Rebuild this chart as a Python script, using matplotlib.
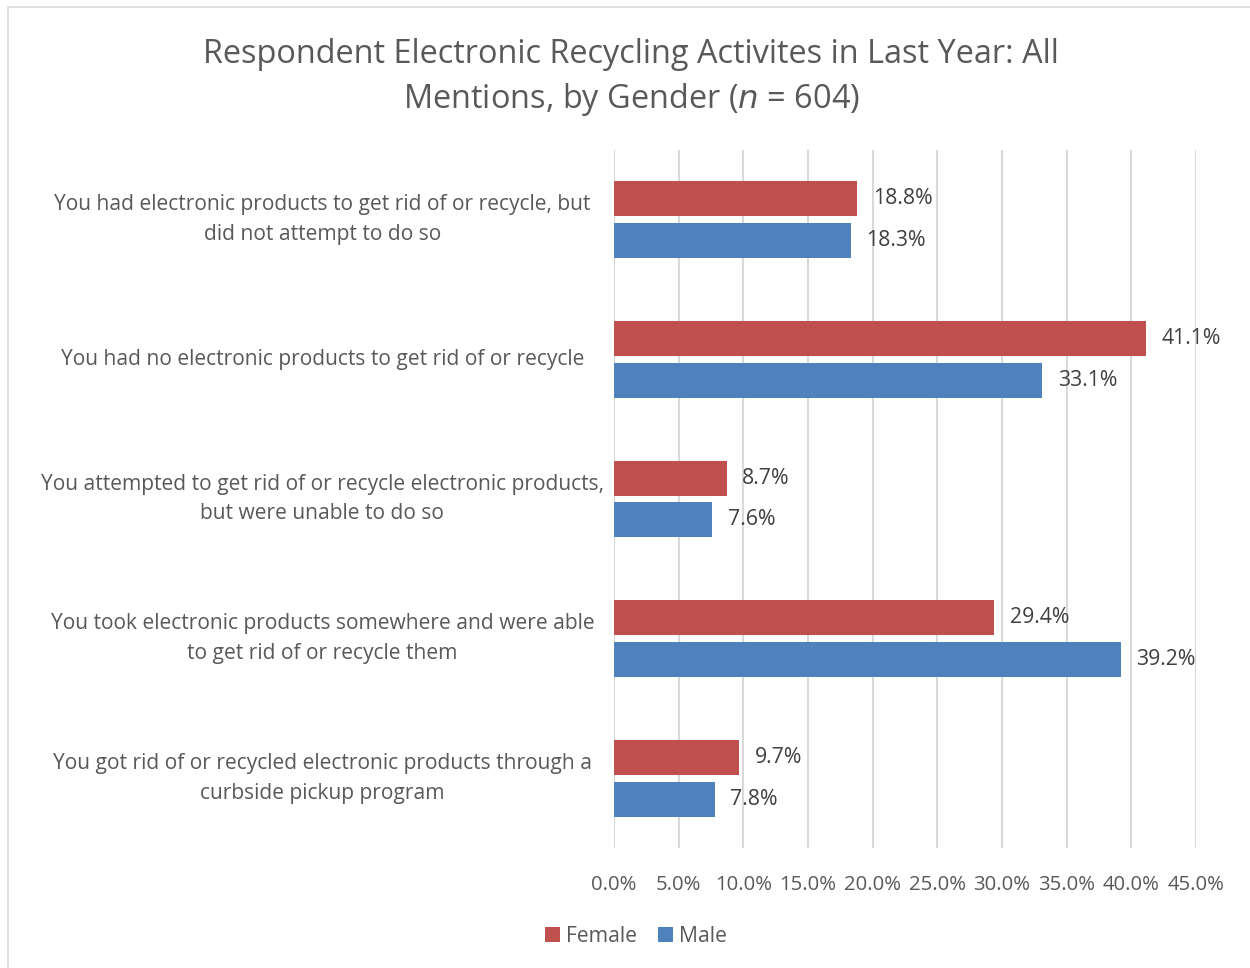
import matplotlib
matplotlib.use("Agg")
import matplotlib.pyplot as plt
from matplotlib.patches import Rectangle
import numpy as np

plt.rcParams['font.family'] = ['Open Sans', 'DejaVu Sans']

categories = [
    "You had electronic products to get rid of or recycle, but\ndid not attempt to do so",
    "You had no electronic products to get rid of or recycle",
    "You attempted to get rid of or recycle electronic products,\nbut were unable to do so",
    "You took electronic products somewhere and were able\nto get rid of or recycle them",
    "You got rid of or recycled electronic products through a\ncurbside pickup program",
]
female = [18.8, 41.1, 8.7, 29.4, 9.7]
male = [18.3, 33.1, 7.6, 39.2, 7.8]
xticks = [0, 5, 10, 15, 20, 25, 30, 35, 40, 45]

female_color = "#C0504D"
male_color = "#4F81BD"
text_color = "#595959"
grid_color = "#D9D9D9"

fig = plt.figure(figsize=(12.5, 9.68), dpi=100)
fig.patches.append(Rectangle((0.0065, -0.01), 1.2, 1.003, transform=fig.transFigure,
                             fill=False, edgecolor="#D9D9D9", linewidth=1.2))

ax = fig.add_axes([614 / 1250, 1 - 848 / 968, (1196 - 614) / 1250, (848 - 150) / 968])

y = np.arange(len(categories))
h = 0.25
off = 0.15
ax.barh(y - off, female, height=h, color=female_color, label="Female", zorder=3)
ax.barh(y + off, male, height=h, color=male_color, label="Male", zorder=3)

for yi, v in zip(y, female):
    ax.text(v + 1.2, yi - off, f"{v:.1f}%", va="center", ha="left",
            fontsize=15.3, color="#404040")
for yi, v in zip(y, male):
    ax.text(v + 1.2, yi + off, f"{v:.1f}%", va="center", ha="left",
            fontsize=15.3, color="#404040")

ax.set_xlim(0, 45)
ax.set_ylim(len(categories) - 0.5, -0.5)
ax.set_xticks(xticks)
ax.set_xticklabels([f"{t:.1f}%" for t in xticks], fontsize=14.6, color=text_color)
ax.set_yticks(y)
ax.set_yticklabels(categories, fontsize=15.1, color=text_color, ha="center",
                   va="center", linespacing=1.55)
ax.tick_params(axis="y", length=0, pad=210)
ax.tick_params(axis="x", length=0, pad=19.5)
ax.grid(axis="x", color=grid_color, linewidth=1.5, zorder=0)
for s in ax.spines.values():
    s.set_visible(False)

fig.text(0.505, 0.9195, "Respondent Electronic Recycling Activites in Last Year: All\n"
         "Mentions, by Gender ($\\it{n}$ = 604)", ha="center", va="center",
         fontsize=23.4, color=text_color, linespacing=1.35)

leg = fig.legend(loc="center", bbox_to_anchor=(0.509, 1 - 936 / 968), ncol=2,
                 frameon=False, fontsize=15.2, handlelength=0.7, handleheight=0.7,
                 handletextpad=0.3, columnspacing=1.0)
for t in leg.get_texts():
    t.set_color(text_color)

fig.savefig("out.png", dpi=100, facecolor="white")
